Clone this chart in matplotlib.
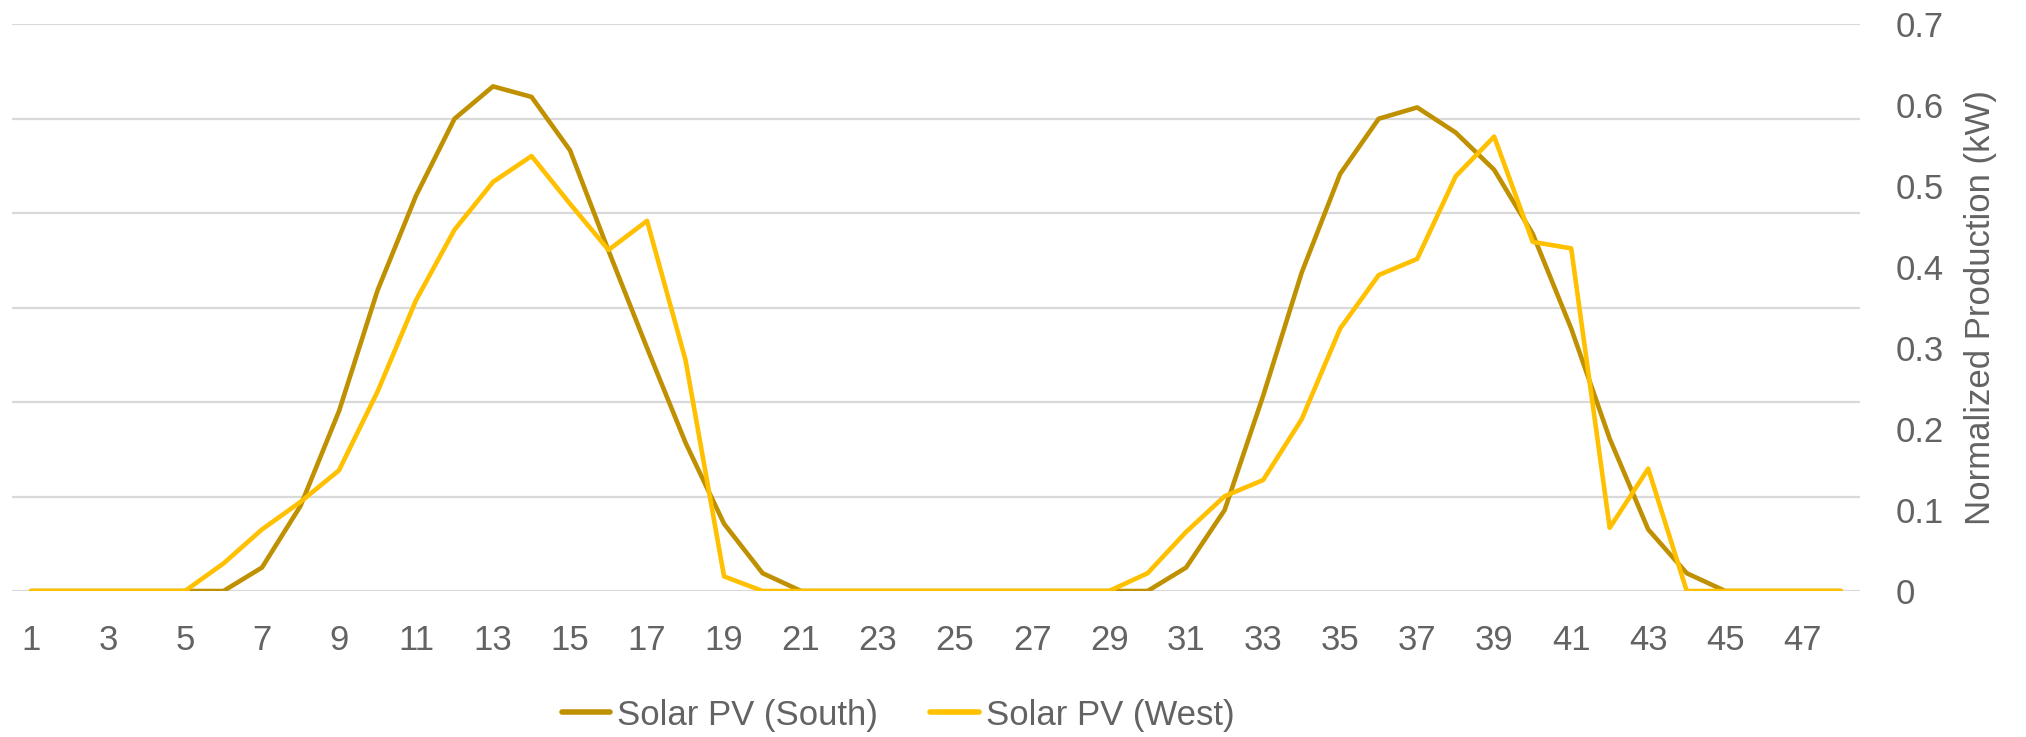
import numpy as np
import matplotlib.pyplot as plt
from matplotlib.lines import Line2D

plt.rcParams['font.family'] = ['Liberation Sans', 'DejaVu Sans']

# half-hour periods over two days
periods = np.arange(1, 49)
south = [0, 0, 0, 0, 0, 0, 0.029, 0.105, 0.222, 0.371, 0.488, 0.583,
         0.623, 0.610, 0.544, 0.420, 0.300, 0.183, 0.083, 0.022, 0, 0, 0, 0,
         0, 0, 0, 0, 0, 0, 0.029, 0.100, 0.241, 0.393, 0.515, 0.583,
         0.597, 0.566, 0.520, 0.441, 0.324, 0.188, 0.076, 0.022, 0, 0, 0, 0]
west = [0, 0, 0, 0, 0, 0.034, 0.076, 0.110, 0.149, 0.246, 0.359, 0.446,
        0.505, 0.537, 0.478, 0.421, 0.457, 0.285, 0.018, 0, 0, 0, 0, 0,
        0, 0, 0, 0, 0, 0.022, 0.073, 0.117, 0.137, 0.212, 0.324, 0.390,
        0.410, 0.512, 0.561, 0.431, 0.423, 0.078, 0.151, 0, 0, 0, 0, 0]
series_names = ['Solar PV (South)', 'Solar PV (West)']
series_colors = ['#BF9000', '#FFC000']
y_ticks = np.arange(0, 0.71, 0.1)
y_ticklabels = ['0'] + ['%.1f' % v for v in y_ticks[1:]]

txt = '#636363'
fs = 25

fig = plt.figure(figsize=(20.26, 7.37), dpi=100)
W, H = 2026, 737
ax = fig.add_axes([11.7/W, (H-591)/H, (1860-11.7)/W, (591-24)/H])
ax2 = ax.twinx()

# primary (hidden) axis only carries the gridlines
ax.set_xlim(0.5, 48.5)
ax.set_ylim(0, 0.6)
ax.set_yticks(np.arange(0, 0.61, 0.1))
ax.yaxis.grid(True, color='#D9D9D9', lw=1.6)
ax.set_axisbelow(True)
ax.tick_params(axis='y', left=False, right=False, labelleft=False, labelright=False)
ax.set_xticks(periods)
ax.set_xticklabels([str(p) if p % 2 else '' for p in periods])
ax.tick_params(axis='x', length=0, pad=24, labelsize=fs, labelcolor=txt)
for s in ax.spines.values():
    s.set_visible(False)

ax2.set_ylim(0, 0.7)
ax2.set_yticks(y_ticks)
ax2.set_yticklabels(y_ticklabels)
ax2.tick_params(axis='y', length=0, pad=26, labelsize=fs, labelcolor=txt)
for s in ax2.spines.values():
    s.set_visible(False)

for vals, name, col in zip([south, west], series_names, series_colors):
    ax2.plot(periods, vals, color=col, lw=3.3, label=name,
             solid_joinstyle='round', solid_capstyle='round')

ax2.set_ylabel('Normalized Production (kW)', fontsize=fs, color=txt, labelpad=14)

handles = [Line2D([], [], color=c, lw=4, solid_capstyle='round') for c in series_colors]
fig.legend(handles, series_names, loc='center', bbox_to_anchor=(898/W, 1-715/H),
           ncol=2, frameon=False, fontsize=fs, labelcolor=txt,
           handlelength=1.4, handletextpad=0.2, columnspacing=1.5)

fig.savefig('out.png', dpi=100)
